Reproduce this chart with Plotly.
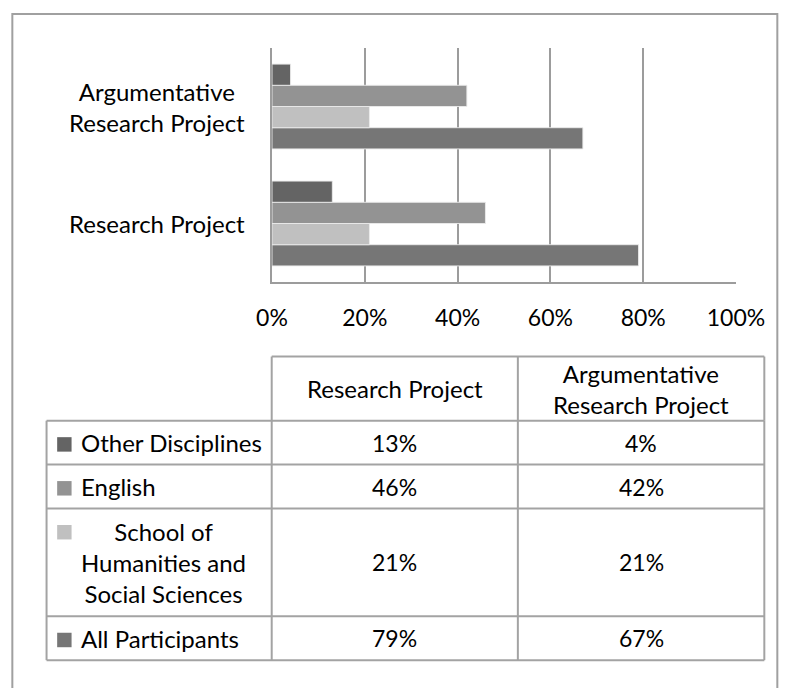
import plotly.graph_objects as go

# ---------------- data ----------------
categories = ["Research Project", "Argumentative Research Project"]
category_labels = ["Research Project", "Argumentative<br>Research Project"]
series_names = ["Other Disciplines", "English",
                "School of Humanities and Social Sciences", "All Participants"]
series_table_labels = ["Other Disciplines", "English",
                       "School of<br>Humanities and<br>Social Sciences", "All Participants"]
other_disciplines = [13, 4]
english = [46, 42]
school_hss = [21, 21]
all_participants = [79, 67]
series_colors = ["#646464", "#939393", "#c0c0c0", "#767676"]
x_ticks = [0, 20, 40, 60, 80, 100]
x_tick_labels = ["0%", "20%", "40%", "60%", "80%", "100%"]

series_values = [other_disciplines, english, school_hss, all_participants]

# ---------------- layout constants ----------------
# The page body adds an 8px margin; screen coordinates below are measured on
# the final screenshot, so the figure is 8px smaller and offsets are removed.
OFF = 8
W, H = 790 - OFF, 688 - OFF
SL, SR, ST, SB = 272, 735.7, 47.5, 282          # plot area in screen px
L, R, T, B = SL - OFF, SR - OFF, ST - OFF, SB - OFF
PW, PH = R - L, B - T
FONT = "Lato, 'Open Sans', sans-serif"
FS_TEXT = 24
FS_NUM = 23
GRID = "#9c9c9c"
TXT = "#000000"


def px(xs):
    return (xs - OFF - L) / PW


def py(ys):
    return 1 - (ys - OFF - T) / PH


fig = go.Figure()

# bars: Plotly places grouped horizontal traces bottom-up, so add in reverse
for i in reversed(range(len(series_names))):
    fig.add_trace(go.Bar(
        y=categories, x=series_values[i], orientation="h",
        name=series_names[i],
        marker=dict(color=series_colors[i],
                    line=dict(color="rgba(235,235,235,0.9)", width=1)),
        hoverinfo="x+name",
    ))

shapes = []
annotations = []

# category labels (centered multi-line, right-anchored)
for cat, lab in zip(categories, category_labels):
    annotations.append(dict(
        x=px(247), xref="paper", xanchor="right",
        y=cat, yref="y", yanchor="middle", yshift=0,
        text=lab, showarrow=False, align="center",
        font=dict(family=FONT, size=FS_TEXT, color=TXT),
    ))

# ---------------- data table ----------------
col_x = [46.7, 271.7, 517.7, 764]
head_top = 356.7
row_y = [421, 465, 509, 617, 661]
line_style = dict(color="#a3a3a3", width=2)


def hline(x0, x1, y):
    shapes.append(dict(type="line", xref="paper", yref="paper",
                       x0=px(x0), x1=px(x1), y0=py(y), y1=py(y), line=line_style))


def vline(x, y0, y1):
    shapes.append(dict(type="line", xref="paper", yref="paper",
                       x0=px(x), x1=px(x), y0=py(y0), y1=py(y1), line=line_style))


hline(col_x[1], col_x[3], head_top)
for cx in col_x[1:]:
    vline(cx, head_top, row_y[0])
for ry in row_y:
    hline(col_x[0], col_x[3], ry)
for cx in col_x:
    vline(cx, row_y[0], row_y[-1])

# header text
for j, lab in enumerate(category_labels):
    annotations.append(dict(
        x=px((col_x[j + 1] + col_x[j + 2]) / 2), xref="paper", xanchor="center",
        y=py(389), yref="paper", yanchor="middle",
        text=lab, showarrow=False, align="center",
        font=dict(family=FONT, size=FS_TEXT, color=TXT),
    ))

# body rows
for i, lab in enumerate(series_table_labels):
    y0, y1 = row_y[i], row_y[i + 1]
    yc = (y0 + y1) / 2
    nlines = lab.count("<br>") + 1
    first_line_c = yc - (nlines - 1) * 16
    shapes.append(dict(type="rect", xref="paper", yref="paper",
                       x0=px(57.3), x1=px(71.7),
                       y0=py(first_line_c - 5.5), y1=py(first_line_c + 9),
                       fillcolor=series_colors[i], line=dict(width=0)))
    annotations.append(dict(
        x=px(79.3), xref="paper", xanchor="left",
        y=py(yc), yref="paper", yanchor="middle",
        text=lab, showarrow=False, align="center",
        font=dict(family=FONT, size=FS_TEXT, color=TXT),
    ))
    for j in range(len(categories)):
        annotations.append(dict(
            x=px((col_x[j + 1] + col_x[j + 2]) / 2), xref="paper", xanchor="center",
            y=py(yc), yref="paper", yanchor="middle",
            text=f"{series_values[i][j]}%", showarrow=False,
            font=dict(family=FONT, size=FS_NUM, color=TXT),
        ))

# outer chart border
shapes.append(dict(type="rect", xref="paper", yref="paper",
                   x0=px(12.5), x1=px(777), y0=py(13.5), y1=py(700),
                   line=dict(color="#a0a0a0", width=2), fillcolor="rgba(0,0,0,0)"))

fig.update_layout(
    width=W, height=H,
    margin=dict(l=L, r=W - R, t=T, b=H - B, autoexpand=False),
    paper_bgcolor="white", plot_bgcolor="white",
    barmode="group", bargap=0.275, bargroupgap=0,
    showlegend=False,
    font=dict(family=FONT, size=FS_TEXT, color=TXT),
    shapes=shapes, annotations=annotations,
    xaxis=dict(range=[0, 100], tickmode="array", tickvals=x_ticks, ticktext=x_tick_labels,
               showgrid=True, gridcolor=GRID, gridwidth=1.5,
               showline=True, linecolor=GRID, linewidth=1.5,
               zeroline=False, ticks="", ticklabelstandoff=15,
               tickfont=dict(family=FONT, size=FS_NUM, color=TXT), fixedrange=True),
    yaxis=dict(type="category", categoryorder="array", categoryarray=categories,
               showticklabels=False, showgrid=False,
               showline=True, linecolor=GRID, linewidth=1.5,
               zeroline=False, ticks="", fixedrange=True),
)

fig.write_html("out.html")
